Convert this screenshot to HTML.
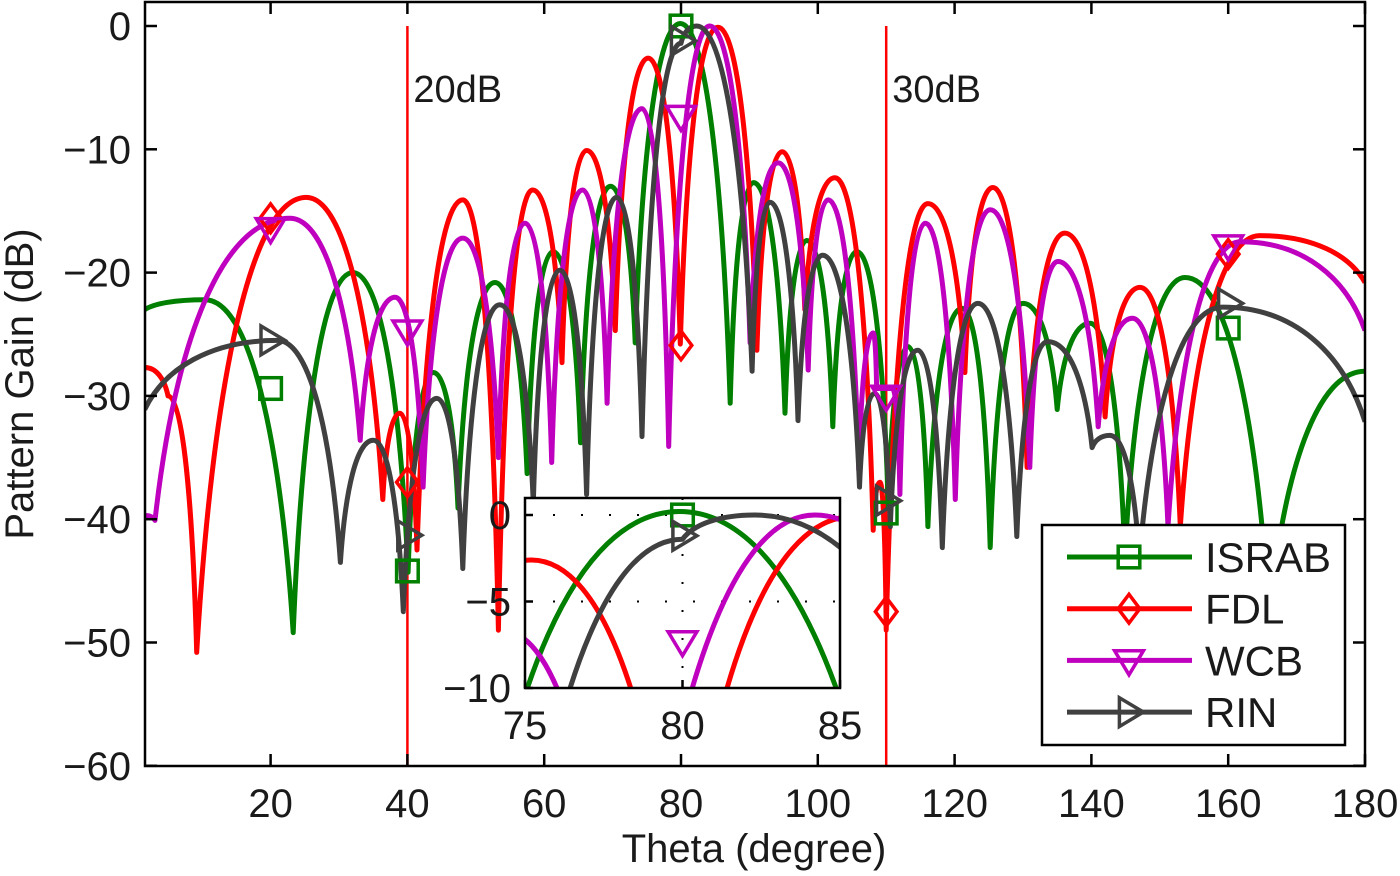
<!DOCTYPE html>
<html><head><meta charset="utf-8"><style>
html,body{margin:0;padding:0;background:#fff;overflow:hidden;width:1400px;height:876px;}
svg{display:block;font-family:"Liberation Sans",sans-serif;}
</style></head><body>
<svg id="chart" width="1400" height="876" viewBox="0 0 1400 876" xmlns="http://www.w3.org/2000/svg">
<defs>
<clipPath id="mainClip"><rect x="145" y="2" width="1220" height="764"/></clipPath>
<clipPath id="insetClip"><rect x="525" y="498" width="315" height="190"/></clipPath>
</defs>
<rect x="0" y="0" width="1400" height="876" fill="#fff"/>
<g id="main"></g>
<g id="inset"></g>
<g id="legend"></g>
</svg>
<script>
const thetaTicks = [20,40,60,80,100,120,140,160,180];
const gainTicks = [0,-10,-20,-30,-40,-50,-60];
const markerTheta = [20,40,80,110,160];
const refLines = [40,110];
const refLabels = ["20dB","30dB"];

const israbX = [1.6,10.4,23.3,32,40.1,43.8,47.4,52.8,57.5,61.3,65.3,69.7,73.3,79.9,87.2,90.6,95.2,98.4,102.2,105.7,110.3,113.2,116.1,121.1,125.2,130,135,139.8,144.9,153.7,166,180];
const israbY = [-23,-22.2,-49.2,-20,-44.3,-28.1,-39.1,-20.8,-36.3,-18.3,-33.8,-13,-25.7,0.2,-30.6,-12.7,-31.4,-17.4,-32.5,-18.3,-39,-26,-40.6,-22.9,-42.3,-22.5,-31.1,-24.1,-43,-20.4,-48,-28];
const israbMarks = [-29.4,-44.2,0,-39.5,-24.5];

const fdlX = [1.6,5,9.2,25.2,36.4,38.9,41.4,48.1,53.3,58.3,62.6,66.2,70.4,75.2,79.9,85.4,91.1,94.8,98.1,102.5,108.1,109.1,110,116.1,121.5,125.6,130.6,136.1,142,147.1,153,164.6,180];
const fdlY = [-27.7,-30,-50.8,-13.9,-38.4,-31.4,-42.5,-14.1,-49,-13.3,-27.3,-10.1,-24.7,-2.6,-25.8,-0.1,-26.3,-10.2,-23,-12.3,-40.9,-37,-49,-14.4,-28.1,-13.1,-35.8,-16.8,-31.7,-21.2,-40.6,-17,-20.8];
const fdlMarks = [-15.6,-37,-25.9,-47.5,-18.5];

const wcbX = [1.6,3.1,22.8,33.1,38.2,42.3,48.1,53.3,57.2,61.1,65.6,69.2,74.3,78.2,84.2,90.1,94.2,98.6,101.5,106,108.1,108.6,110.9,112,115.7,120.1,125.2,131,135.1,141,146,151.2,161.8,180];
const wcbY = [-39.7,-40.1,-15.6,-33.6,-22,-37.4,-17.2,-35,-16,-35.4,-13.3,-30.6,-6.7,-34.1,0,-25.7,-11.1,-27.9,-14.1,-36,-24.9,-29.4,-29.4,-38,-16,-38.4,-14.9,-35.8,-19.1,-32.5,-23.7,-40.6,-17.5,-24.7];
const wcbMarks = [-16.4,-24.7,-7.3,-30,-17.8];

const rinX = [1.6,21,30.2,35,39.4,44.3,48.1,53.5,58.4,62.3,66.2,70.6,74.3,80,82.3,90.4,93,97.1,100.7,106.1,108.3,110.6,114.6,118.2,123.4,129.1,133.6,140.1,142.7,147,159.2,180];
const rinY = [-31.1,-25.5,-43.5,-33.6,-47.5,-30.2,-44,-22.6,-38.7,-19.8,-38,-13.9,-33.3,-1.4,0,-28,-14.3,-32,-18.6,-37.4,-29.8,-40.6,-26.3,-42.3,-22.5,-41.4,-25.6,-34.2,-33.2,-43.3,-22.8,-32.1];
const rinMarks = [-25.5,-41.3,-1.2,-38.5,-22.5];

const insetXTicks = [75,80,85];
const insetYTicks = [0,-5,-10];

const NS = "http://www.w3.org/2000/svg";
function mk(tag, attrs, parent){const e=document.createElementNS(NS,tag);for(const k in attrs)e.setAttribute(k,attrs[k]);parent.appendChild(e);return e;}

const mx = t => 133.8 + t*6.84;
const my = v => 26 - v*12.33;
const ix = t => 525 + (t-75)*31.5;
const iy = v => 515 - v*17.3;

function pathD(xs, ys, fx, fy){
  let d = "M"+fx(xs[0]).toFixed(1)+","+fy(ys[0]).toFixed(1);
  for(let i=0;i<xs.length-1;i++){
    const x0=fx(xs[i]),y0=fy(ys[i]),x1=fx(xs[i+1]),y1=fy(ys[i+1]);
    let c1x,c1y,c2x,c2y;
    if(y0<=y1){
      c1x=x0+0.5*(x1-x0); c1y=y0;
      c2x=x1-0.15*(x1-x0); c2y=y1+0.6*(y0-y1);
    } else {
      c1x=x0+0.15*(x1-x0); c1y=y0+0.6*(y1-y0);
      c2x=x1-0.5*(x1-x0); c2y=y1;
    }
    d+=" C"+c1x.toFixed(1)+","+c1y.toFixed(1)+" "+c2x.toFixed(1)+","+c2y.toFixed(1)+" "+x1.toFixed(1)+","+y1.toFixed(1);
  }
  return d;
}

function marker(type, cx, cy, color, parent, s){
  let e;
  if(type==="square") e=mk("rect",{x:cx-s*0.45,y:cy-s*0.45,width:s*0.9,height:s*0.9,fill:"none",stroke:color,"stroke-width":3.5},parent);
  else if(type==="diamond") e=mk("polygon",{points:`${cx},${cy-s*0.6} ${cx+s*0.45},${cy} ${cx},${cy+s*0.6} ${cx-s*0.45},${cy}`,fill:"none",stroke:color,"stroke-width":3.5},parent);
  else if(type==="down") e=mk("polygon",{points:`${cx-s*0.6},${cy-s*0.4} ${cx+s*0.6},${cy-s*0.4} ${cx},${cy+s*0.6}`,fill:"none",stroke:color,"stroke-width":3.5},parent);
  else e=mk("polygon",{points:`${cx-s*0.4},${cy-s*0.6} ${cx+s*0.6},${cy} ${cx-s*0.4},${cy+s*0.6}`,fill:"none",stroke:color,"stroke-width":3.5},parent);
  return e;
}

const series = [
  {name:"ISRAB",xs:israbX,ys:israbY,mv:israbMarks,color:"#007f00",m:"square",key:"israb"},
  {name:"FDL",xs:fdlX,ys:fdlY,mv:fdlMarks,color:"#ff0000",m:"diamond",key:"fdl"},
  {name:"WCB",xs:wcbX,ys:wcbY,mv:wcbMarks,color:"#bf00bf",m:"down",key:"wcb"},
  {name:"RIN",xs:rinX,ys:rinY,mv:rinMarks,color:"#404040",m:"right",key:"rin"}
];

const main = document.getElementById("main");
refLines.forEach((t,i)=>{
  const l=mk("line",{x1:mx(t),y1:26,x2:mx(t),y2:766,stroke:"#ff0000","stroke-width":2.5},main);
  
  
  const tx=mk("text",{x:mx(t)+6,y:102,"font-size":38,fill:"#1a1a1a"},main);
  tx.textContent=refLabels[i];
  
  
});
const gMain = mk("g",{"clip-path":"url(#mainClip)"},main);
series.forEach(s=>{
  const p=mk("path",{d:pathD(s.xs,s.ys,mx,my),fill:"none",stroke:s.color,"stroke-width":5,"stroke-linejoin":"round"},gMain);
  
  
});
series.forEach(s=>{
  markerTheta.forEach((t,i)=>{
    const e=marker(s.m,mx(t),my(s.mv[i]),s.color,main,24);
    
    
  });
});
const fr=mk("rect",{x:145,y:2,width:1220,height:764,fill:"none",stroke:"#000","stroke-width":2.5},main);


thetaTicks.forEach(t=>{
  const x=mx(t);
  mk("line",{x1:x,y1:766,x2:x,y2:754,stroke:"#000","stroke-width":2.5},main);
  mk("line",{x1:x,y1:2,x2:x,y2:14,stroke:"#000","stroke-width":2.5},main);
  const tx=mk("text",{x:x,y:817,"font-size":40,"text-anchor":"middle",fill:"#1a1a1a"},main);
  tx.textContent=String(t);
  
  
});
gainTicks.forEach(v=>{
  const y=my(v);
  mk("line",{x1:145,y1:y,x2:157,y2:y,stroke:"#000","stroke-width":2.5},main);
  mk("line",{x1:1365,y1:y,x2:1353,y2:y,stroke:"#000","stroke-width":2.5},main);
  const tx=mk("text",{x:131,y:y+14,"font-size":40,"text-anchor":"end",fill:"#1a1a1a"},main);
  tx.textContent=v<0?"\u2212"+Math.abs(v):String(v);
  
  
});
const xt=mk("text",{x:754,y:862,"font-size":40,"text-anchor":"middle",fill:"#1a1a1a"},main);
xt.textContent="Theta (degree)";


const yt=mk("text",{x:0,y:0,"font-size":40,"text-anchor":"middle",fill:"#1a1a1a",transform:"translate(33,384) rotate(-90)"},main);
yt.textContent="Pattern Gain (dB)";



const inset=document.getElementById("inset");
mk("rect",{x:525,y:498,width:315,height:190,fill:"#fff",stroke:"none"},inset);
[0,-5].forEach(v=>{
  const gl=mk("line",{x1:525,y1:iy(v),x2:840,y2:iy(v),stroke:"#000","stroke-width":2,"stroke-dasharray":"2,26"},inset);
  
  
});
mk("line",{x1:ix(80),y1:498,x2:ix(80),y2:688,stroke:"#000","stroke-width":2,"stroke-dasharray":"2,26"},inset);
const gIn=mk("g",{"clip-path":"url(#insetClip)"},inset);
series.forEach(s=>{
  const p=mk("path",{d:pathD(s.xs,s.ys,ix,iy),fill:"none",stroke:s.color,"stroke-width":5,"stroke-linejoin":"round"},gIn);
  
  
  const mi=markerTheta.indexOf(80);
  const e=marker(s.m,ix(80),iy(s.mv[mi]),s.color,gIn,24);
  
  
});
const ifr=mk("rect",{x:525,y:498,width:315,height:190,fill:"none",stroke:"#000","stroke-width":2.5},inset);


insetXTicks.forEach(t=>{
  mk("line",{x1:ix(t),y1:688,x2:ix(t),y2:680,stroke:"#000","stroke-width":2.5},inset);
  const tx=mk("text",{x:ix(t),y:739,"font-size":40,"text-anchor":"middle",fill:"#1a1a1a"},inset);
  tx.textContent=String(t);
  
  
});
insetYTicks.forEach(v=>{
  mk("line",{x1:525,y1:iy(v),x2:533,y2:iy(v),stroke:"#000","stroke-width":2.5},inset);
  const tx=mk("text",{x:511,y:iy(v)+14,"font-size":40,"text-anchor":"end",fill:"#1a1a1a"},inset);
  tx.textContent=v<0?"\u2212"+Math.abs(v):String(v);
  
  
});

const lg=document.getElementById("legend");
const lb=mk("rect",{x:1042,y:525,width:303,height:220,fill:"#fff",stroke:"#000","stroke-width":2.5},lg);


series.forEach((s,i)=>{
  const y=557+i*51.7;
  const g=mk("g",{},lg);
  
  
  mk("line",{x1:1067,y1:y,x2:1192,y2:y,stroke:s.color,"stroke-width":5},g);
  marker(s.m,1129,y,s.color,g,24);
  const tx=mk("text",{x:1205,y:y+15,"font-size":42,fill:"#1a1a1a"},g);
  tx.textContent=s.name;
});
</script>
</body></html>
